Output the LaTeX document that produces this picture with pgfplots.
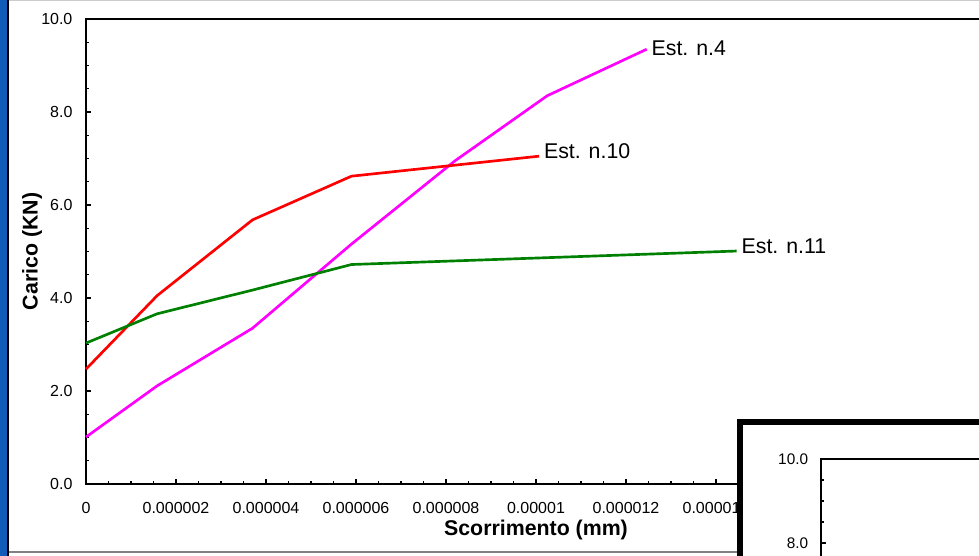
\documentclass[border=0pt]{standalone}
\usepackage{fontspec}
\setmainfont{Liberation Sans}
\usepackage{pgfplots}
\pgfplotsset{compat=1.18}
\definecolor{stripeblue}{RGB}{16,92,184}
\definecolor{mag}{RGB}{255,0,255}
\definecolor{grn}{RGB}{0,128,0}
\begin{document}
\begin{tikzpicture}
\useasboundingbox (0,0) rectangle (734.25pt,417pt);
\fill[white] (0,0) rectangle (734.25pt,417pt);
\begin{axis}[
  scale only axis,
  width=675pt, height=348.75pt,
  at={(64.5pt,54pt)}, anchor=south west,
  xmin=0, xmax=0.00002, ymin=0, ymax=10,
  scaled x ticks=false,
  xtick={0,0.000002,0.000004,0.000006,0.000008,0.00001,0.000012,0.000014,0.000016,0.000018,0.00002},
  xticklabels={0,0.000002,0.000004,0.000006,0.000008,0.00001,0.000012,0.000014,,,},
  minor x tick num=3,
  ytick={0,2,4,6,8,10},
  minor y tick num=3,
  tick pos=left,
  tick align=inside,
  major tick length=3.75pt, minor tick length=2.25pt,
  axis line style={line width=1.2pt},
  every tick/.style={black, line width=0.9pt},
  yticklabel={\pgfmathprintnumber[fixed,zerofill,precision=1]{\tick}},
  /pgf/number format/assume math mode=true,
  tick label style={font=\fontsize{12}{14}\selectfont, inner sep=0pt},
  yticklabel style={anchor=east, xshift=-10pt},
  xticklabel style={anchor=north, yshift=-13.5pt},
  xlabel={Scorrimento (mm)},
  ylabel={Carico (KN)},
  xlabel style={font=\bfseries\fontsize{16}{18}\selectfont, at={(axis description cs:0.5,-0.099)}, anchor=center},
  ylabel style={font=\bfseries\fontsize{16}{18}\selectfont, at={(axis description cs:-0.06,0.5)}, anchor=center},
  clip=false,
]
\addplot[mag, line width=2pt] coordinates {
  (0,1.01) (0.00000158,2.11) (0.00000370,3.35) (0.00000590,5.16)
  (0.00000820,6.95) (0.00001025,8.35) (0.00001246,9.35)};
\addplot[red, line width=2pt] coordinates {
  (0,2.47) (0.00000158,4.05) (0.00000370,5.68) (0.00000590,6.62)
  (0.00001007,7.05)};
\addplot[grn, line width=2pt] coordinates {
  (0,3.03) (0.00000158,3.66) (0.00000370,4.17) (0.00000590,4.72)
  (0.00001446,5.01)};
\node[anchor=west, inner sep=0pt, xshift=3.5pt, yshift=0.8pt, font=\fontsize{16}{18}\selectfont] at (axis cs:0.00001246,9.35) {Est. n.4};
\node[anchor=west, inner sep=0pt, xshift=3.5pt, yshift=3.5pt, font=\fontsize{16}{18}\selectfont] at (axis cs:0.00001007,7.05) {Est. n.10};
\node[anchor=west, inner sep=0pt, xshift=3.5pt, yshift=3.2pt, font=\fontsize{16}{18}\selectfont] at (axis cs:0.00001446,5.01) {Est. n.11};
\end{axis}
% inset box
\filldraw[fill=white, draw=black, line width=4.5pt] (555pt,100.5pt) rectangle (780pt,-40pt);
\begin{axis}[
  scale only axis,
  width=225pt, height=315pt,
  at={(615.75pt,72.75pt)}, anchor=north west,
  xmin=0, xmax=1, ymin=0, ymax=10,
  xtick=\empty,
  ytick={8,10},
  minor y tick num=3,
  ytick pos=left,
  tick align=inside,
  major tick length=3.75pt, minor tick length=2.25pt,
  axis line style={line width=0.9pt},
  every tick/.style={black, line width=0.8pt},
  yticklabel={\pgfmathprintnumber[fixed,zerofill,precision=1]{\tick}},
  /pgf/number format/assume math mode=true,
  tick label style={font=\fontsize{11.5}{13}\selectfont, inner sep=0pt},
  yticklabel style={anchor=east, xshift=-9.5pt},
]
\end{axis}
% frame decorations
\fill[stripeblue] (0,0) rectangle (5.25pt,417pt);
\fill[black] (5.25pt,0) rectangle (6.75pt,417pt);
\draw[gray, line width=1.1pt] (6.75pt,3pt) -- (553pt,3pt);
\draw[black!20, line width=1pt] (6.75pt,416.6pt) -- (734.25pt,416.6pt);
\end{tikzpicture}
\end{document}
